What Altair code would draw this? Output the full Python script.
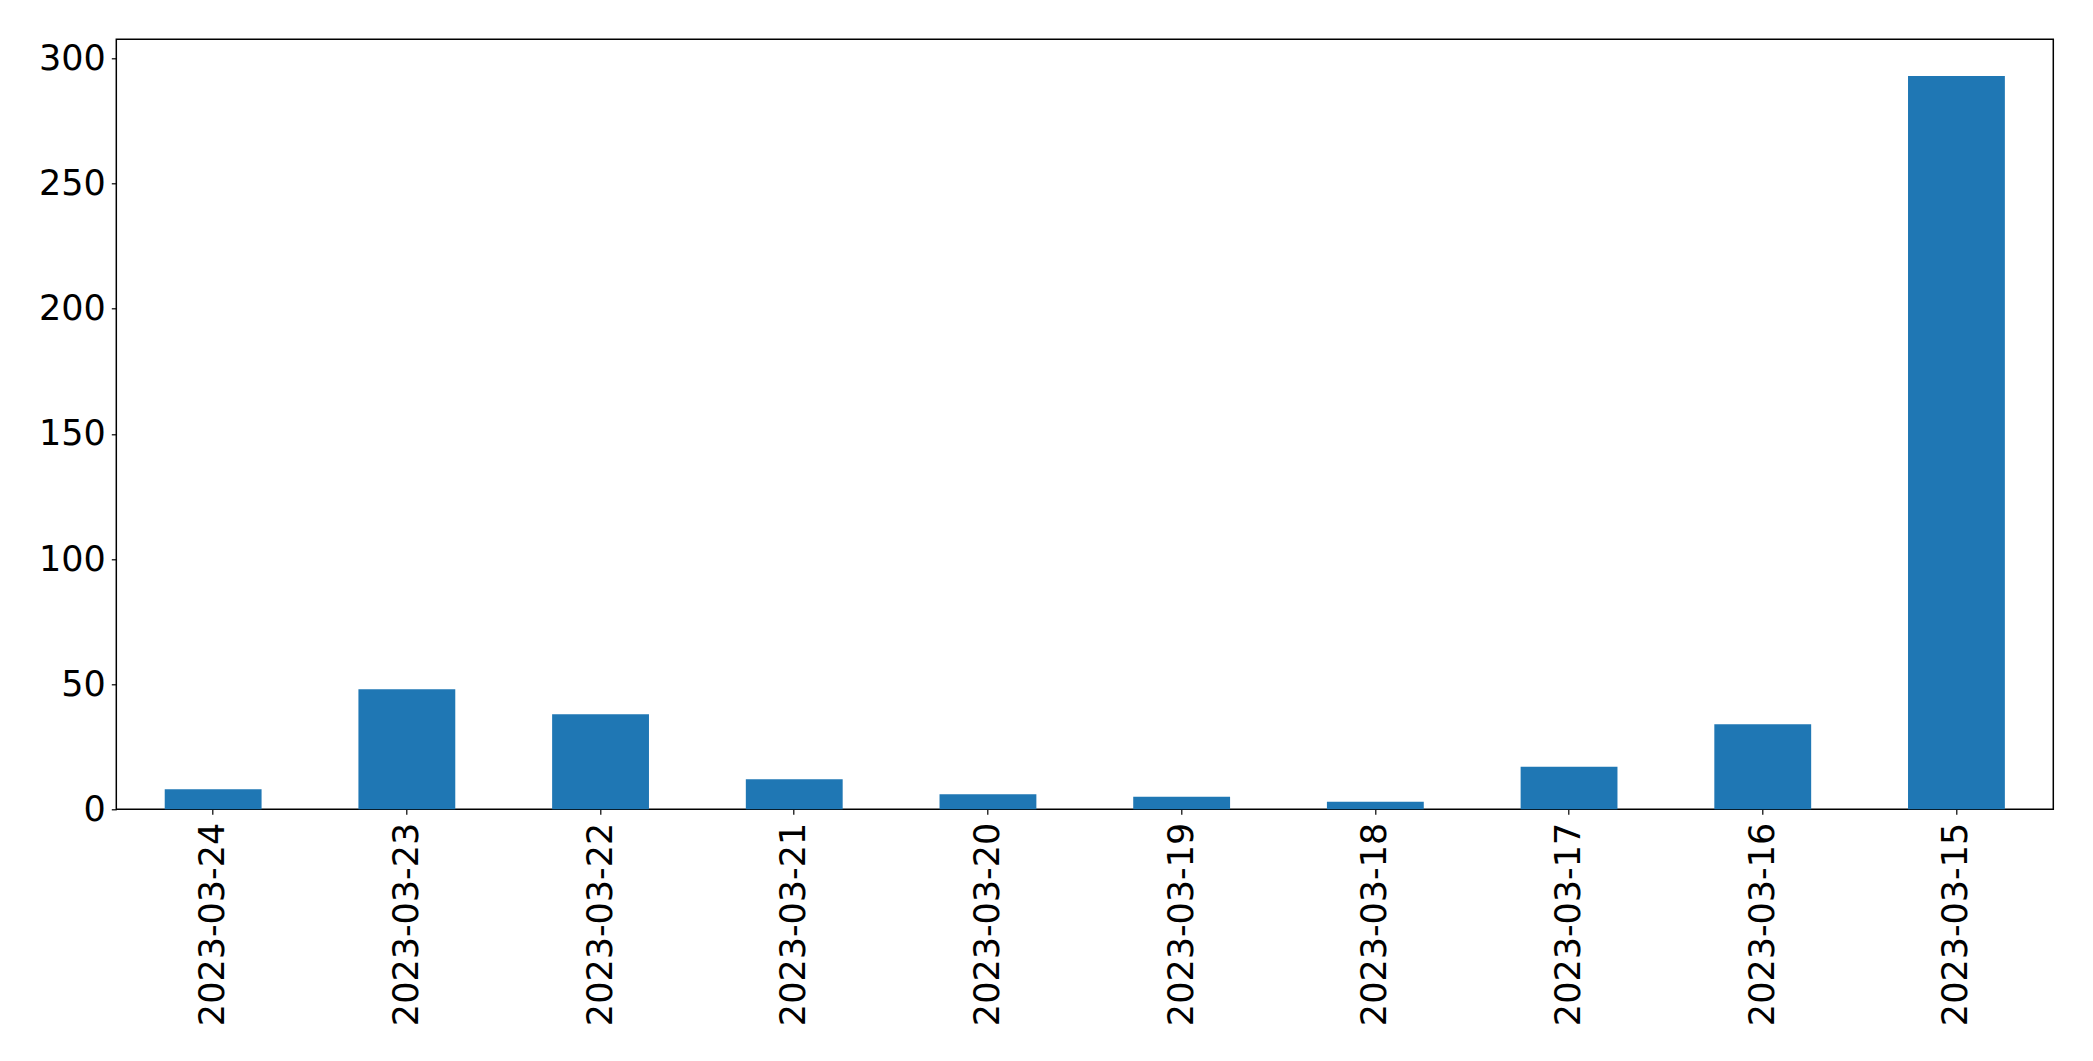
import altair as alt
import pandas as pd

dates = ["2023-03-24", "2023-03-23", "2023-03-22", "2023-03-21", "2023-03-20",
         "2023-03-19", "2023-03-18", "2023-03-17", "2023-03-16", "2023-03-15"]
counts = [8, 48, 38, 12, 6, 5, 3, 17, 34, 293]

df = pd.DataFrame({"date": dates, "count": counts})

chart = alt.Chart(df).mark_bar(color="#1f77b4").encode(
    x=alt.X("date:N", sort=dates, title=None,
            scale=alt.Scale(paddingInner=0.5, paddingOuter=0.25),
            axis=alt.Axis(labelAngle=-90, labelFontSize=35, labelFont="DejaVu Sans",
                          labelColor="black", tickColor="black", tickSize=5,
                          tickWidth=1.2, labelPadding=8, labelLimit=0, domain=False)),
    y=alt.Y("count:Q", title=None,
            scale=alt.Scale(domain=[0, 307.65], nice=False, zero=True),
            axis=alt.Axis(values=[0, 50, 100, 150, 200, 250, 300], grid=False,
                          labelFontSize=35, labelFont="DejaVu Sans", labelColor="black",
                          tickColor="black", tickSize=5, tickWidth=1.2,
                          labelPadding=6, domain=False)),
).properties(
    width=1937, height=770,
    autosize=alt.AutoSizeParams(type="none"),
    padding={"left": 108.3, "top": 31.3, "right": 20, "bottom": 238},
).configure(background="white").configure_view(stroke="black", strokeWidth=1.5)

chart.save("out.html", embed_options={"renderer": "svg", "actions": False})
